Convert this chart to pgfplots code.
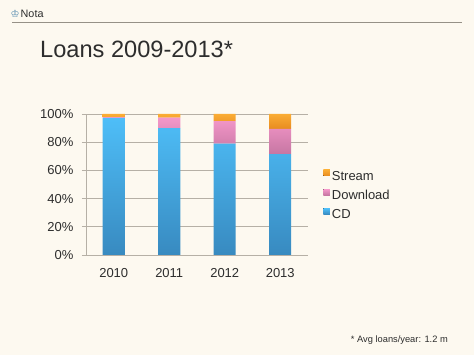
\documentclass[border=0pt]{standalone}
\usepackage{pgfplots}
\pgfplotsset{compat=1.18}
\usepackage{fontspec}
\setmainfont{Liberation Sans}
\newfontfamily\dejavu{DejaVu Sans}
\definecolor{bg}{RGB}{253,249,240}
\definecolor{cdtop}{RGB}{78,190,248}
\definecolor{cdbot}{RGB}{56,138,192}
\definecolor{dltop}{RGB}{245,152,202}
\definecolor{dlbot}{RGB}{198,118,162}
\definecolor{sttop}{RGB}{250,172,52}
\definecolor{stbot}{RGB}{232,140,32}
\definecolor{gridc}{RGB}{182,176,166}
\definecolor{hline}{RGB}{150,145,135}
\definecolor{txt}{RGB}{45,45,45}
\begin{document}
\begin{tikzpicture}
\fill[bg] (0pt,0pt) rectangle (474pt,355pt);
% header
\node[anchor=base west,font=\fontsize{10}{11}\selectfont\dejavu,text=cdbot!70!gray,inner sep=0] at (10.5pt,337.5pt) {♔};
\node[anchor=base west,font=\fontsize{10.8}{12}\selectfont,text=txt,inner sep=0] at (20.5pt,337.5pt) {Nota};
\draw[hline, line width=0.9pt] (12pt,332.5pt) -- (462pt,332.5pt);
% title
\node[anchor=base west,font=\fontsize{23.6}{28}\selectfont,text=txt,inner sep=0] at (40pt,297pt) {Loans 2009-2013*};
% footnote
\node[anchor=base east,font=\fontsize{9.3}{11}\selectfont,text=txt,inner sep=0] at (448pt,12pt) {* Avg loans/year: 1.2 m};
\begin{axis}[
  at={(86pt,100pt)}, anchor=south west,
  scale only axis, width=222pt, height=141pt,
  ybar stacked, bar width=22pt,
  xmin=-0.5, xmax=3.5, ymin=0, ymax=100,
  xtick={0,1,2,3}, xticklabels={2010,2011,2012,2013},
  extra x ticks={0.5,1.5,2.5,3.5}, extra x tick labels={},
  extra x tick style={major tick length=4pt, tick style={gridc}},
  x tick style={draw=none},
  ytick={0,20,40,60,80,100},
  yticklabel={\pgfmathprintnumber{\tick}\%},
  ymajorgrids, grid style={gridc, line width=0.6pt},
  major tick length=4pt, tick align=outside,
  y tick style={gridc, line width=0.6pt},
  axis line style={gridc, line width=0.6pt},
  axis x line*=bottom, axis y line*=left,
  /pgf/number format/assume math mode=true,
  tick label style={font=\fontsize{13}{15}\selectfont, text=txt},
  yticklabel style={xshift=-5pt},
  xticklabel style={yshift=-6pt},
  legend style={draw=none, fill=none, at={(rel axis cs:1.055,0.625)}, anchor=north west,
    font=\fontsize{13}{15}\selectfont, text=txt, row sep=4.5pt},
  legend cell align=left,
  reverse legend,
  legend image code/.code={\fill[#1] (0pt,0.5pt) rectangle (6.5pt,6.5pt);},
]
\addplot[draw=none, top color=cdtop, bottom color=cdbot] coordinates {(0,97.3) (1,90) (2,79) (3,71.5)};
\addplot[draw=none, top color=dltop, bottom color=dlbot] coordinates {(0,0.4) (1,7.4) (2,16) (3,18)};
\addplot[draw=none, top color=sttop, bottom color=stbot] coordinates {(0,2.3) (1,2.6) (2,5) (3,10.5)};
\legend{CD,Download,Stream}
\end{axis}
\end{tikzpicture}
\end{document}
